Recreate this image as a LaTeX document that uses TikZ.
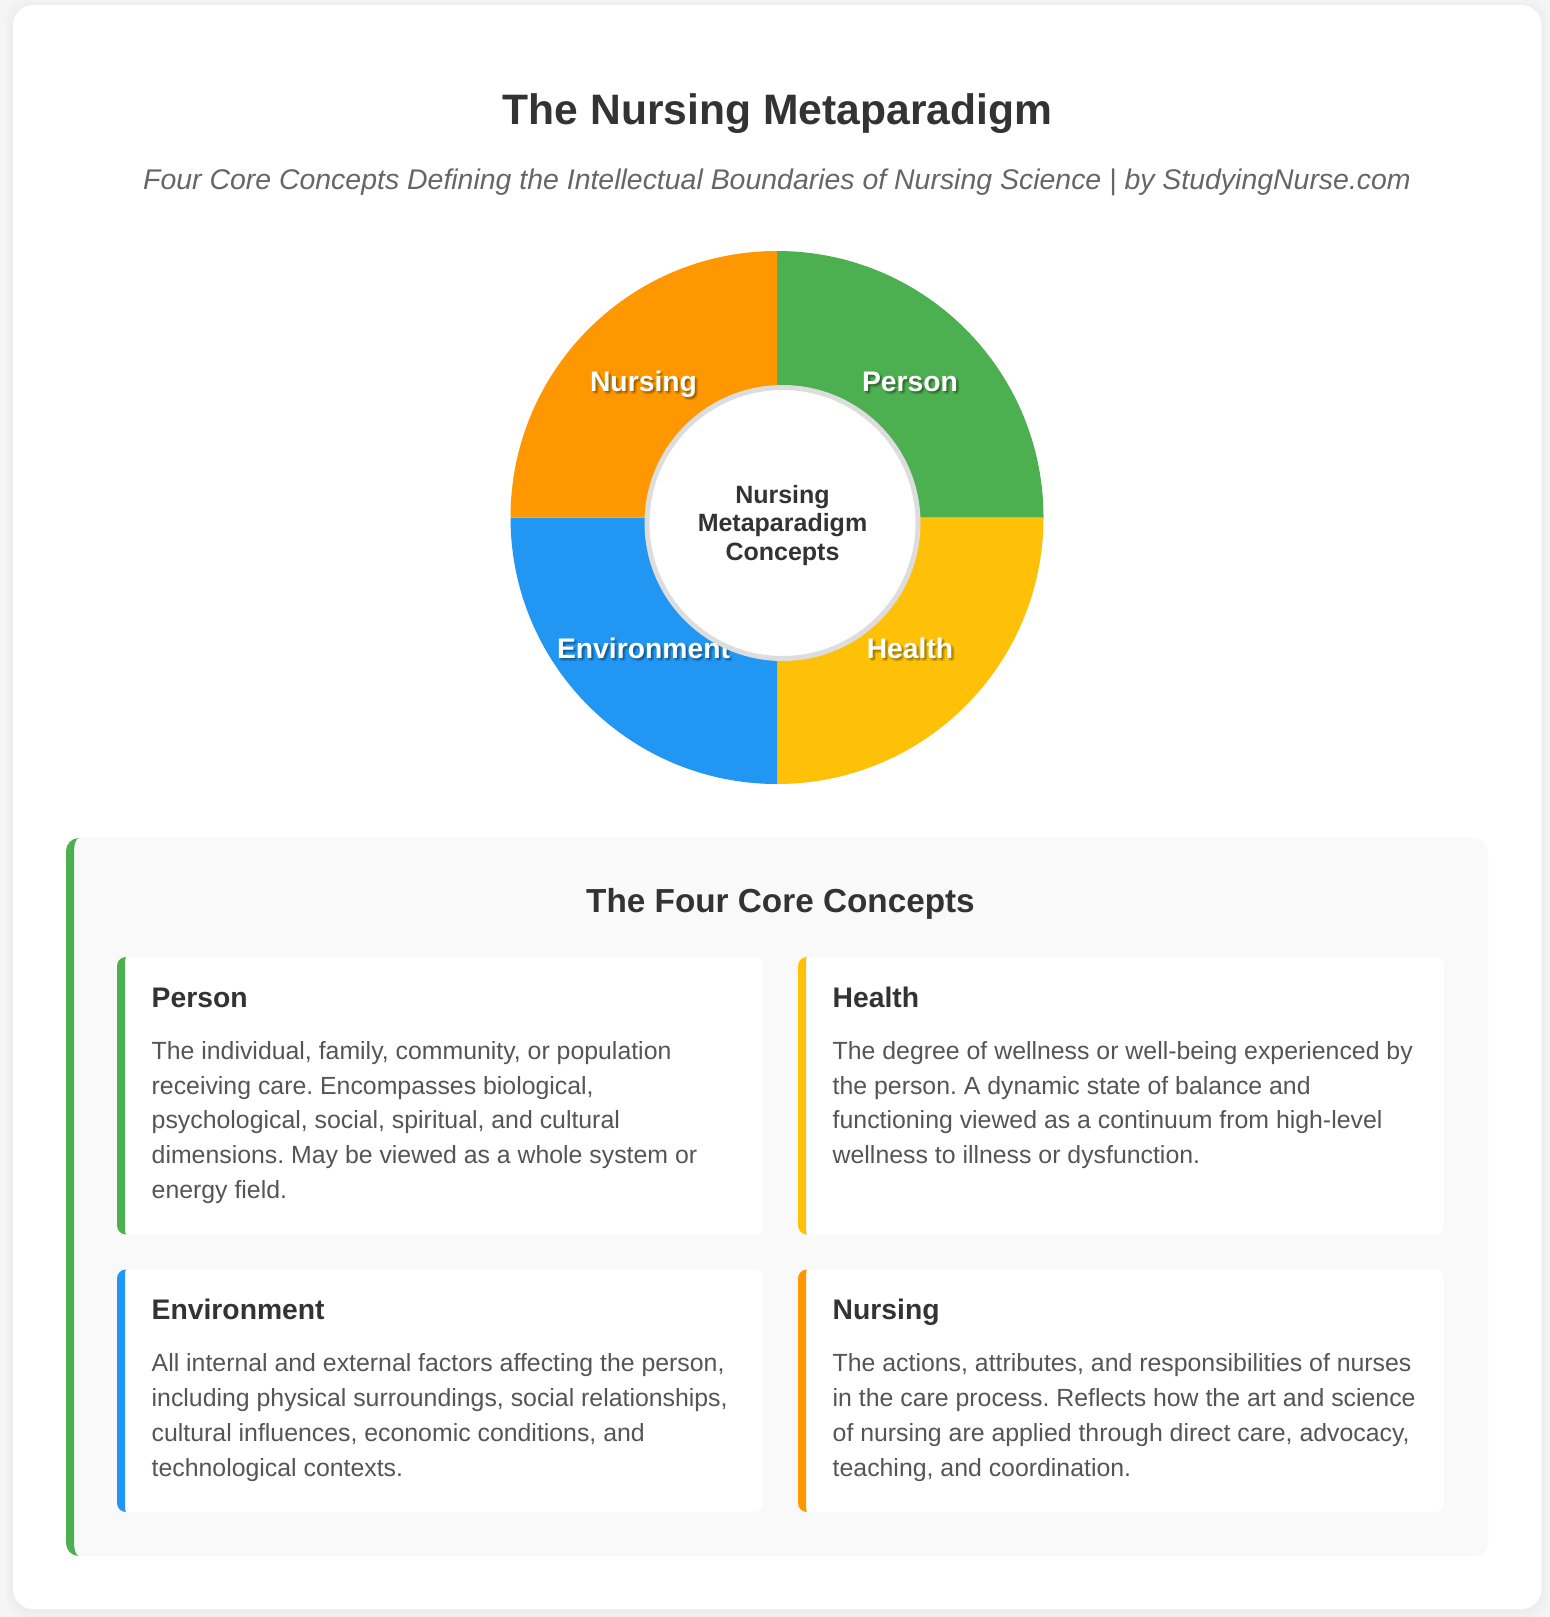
\documentclass[tikz,border=0pt]{standalone}
\usepackage{fontspec}
\setmainfont{Liberation Sans}
\frenchspacing
\definecolor{page}{HTML}{F5F5F5}
\definecolor{panel}{HTML}{F9F9F9}
\definecolor{ink}{HTML}{333333}
\definecolor{subink}{HTML}{666666}
\definecolor{bodyink}{HTML}{555555}
\definecolor{ringline}{HTML}{DDDDDD}
\definecolor{personcol}{HTML}{4CAF50}
\definecolor{healthcol}{HTML}{FFC107}
\definecolor{envcol}{HTML}{2196F3}
\definecolor{nursingcol}{HTML}{FF9800}
\newcommand{\accentbar}[6]{% colour, left, top, bottom, radius, width
  \fill [#1] (#2+#5,#3) arc [radius=#5, start angle=270, end angle=180]
    -- (#2,#4-#5) arc [radius=#5, start angle=180, end angle=90]
    arc [x radius=#5-#6, y radius=#5, start angle=90, end angle=180]
    -- (#2+#6,#3+#5) arc [x radius=#5-#6, y radius=#5, start angle=180, end angle=270]
    -- cycle;
}
\tikzset{%
  main title/.style={
    font=\fontsize{42.6}{48}\selectfont\bfseries,
    text=ink
  },
  sub title/.style={
    font=\fontsize{28.45}{34}\selectfont\itshape,
    text=subink
  },
  panel title/.style={
    font=\fontsize{33.3}{38}\selectfont\bfseries,
    text=ink
  },
  wedge label/.style={
    font=\fontsize{28.3}{32}\selectfont\bfseries,
    text=white,
    anchor=base
  },
  wedge shadow/.style={
    font=\fontsize{28.3}{32}\selectfont\bfseries,
    text=black,
    text opacity=0.09,
    anchor=base
  },
  ring centre/.style={
    circle,
    draw=ringline,
    line width=5pt,
    fill=white,
    minimum size=271pt,
    inner sep=0pt
  },
  centre label/.style={
    font=\fontsize{25}{28.4}\selectfont\bfseries,
    text=ink,
    align=center
  },
  card title/.style={
    font=\fontsize{28.3}{32}\selectfont\bfseries,
    text=ink,
    anchor=base west,
    inner sep=0pt
  },
  card text/.style={
    font=\fontsize{24.85}{34.8}\selectfont,
    text=bodyink,
    align=left,
    anchor=north west,
    inner sep=0pt
  },
}
\begin{document}
\begin{tikzpicture}[x=1pt,y=-1pt]
\useasboundingbox (0,0) rectangle (1550,1617);
\fill [page] (0,0) rectangle (1550,1617);

% sheet
\foreach \s in {8,6,4,2}
  \fill [black, opacity=0.008, rounded corners=22pt]
    (13-\s,5-\s+2) rectangle (1541.5+\s,1609+\s+2);
\fill [white, rounded corners=20pt] (13,5) rectangle (1541.5,1609);

\node [main title] (title) at (777.5,114) {The Nursing Metaparadigm};
\node [sub title] (subtitle) at (777,182.5) {Four Core Concepts Defining the Intellectual Boundaries of Nursing Science | by StudyingNurse.com};

% wheel
\foreach \c/\a in {personcol/270, healthcol/0, envcol/90, nursingcol/180}
  \fill [\c] (777,517.5) -- ++(\a:266.5) arc [radius=266.5, start angle=\a, end angle=\a+90] -- cycle;

\foreach \l/\x/\y in {Person/910/391, Nursing/643.5/391, Environment/643.5/658, Health/910/658}
{
  \foreach \d/\e in {1/3, 3/1, 1/1, 3/3, 2/2}
    \node [wedge shadow] at (\x+\d,\y+\e) {\l};
  \node [wedge label] (label-\l) at (\x,\y) {\l};
}

\node [ring centre] (ring) at (782.5,523) {};
\node [centre label] (ring-label) at (782.5,525.5) {Nursing\\Metaparadigm\\Concepts};

% concepts
\fill [panel, rounded corners=13pt] (66,838) rectangle (1488,1556);
\accentbar{personcol}{66}{838}{1556}{13}{8}
\node [panel title] (concepts) at (780.5,904) {The Four Core Concepts};

\foreach \n/\c/\x/\t/\b/\body in {
  Person/personcol/117/957/1234.5/{The individual, family, community, or population\\receiving care. Encompasses biological,\\psychological, social, spiritual, and cultural\\dimensions. May be viewed as a whole system or\\energy field.},
  Health/healthcol/798/957/1234.5/{The degree of wellness or well-being experienced by\\the person. A dynamic state of balance and\\functioning viewed as a continuum from high-level\\wellness to illness or dysfunction.},
  Environment/envcol/117/1269.5/1512/{All internal and external factors affecting the person,\\including physical surroundings, social relationships,\\cultural influences, economic conditions, and\\technological contexts.},
  Nursing/nursingcol/798/1269.5/1512/{The actions, attributes, and responsibilities of nurses\\in the care process. Reflects how the art and science\\of nursing are applied through direct care, advocacy,\\teaching, and coordination.}}
{
  \fill [white, rounded corners=9pt] (\x,\t) rectangle (\x+646,\b);
  \accentbar{\c}{\x}{\t}{\b}{9}{8}
  \node [card title] (name-\n) at (\x+34.5,\t+50) {\n};
  \node [card text] (text-\n) at (\x+34.5,\t+84) {\body};
}
\end{tikzpicture}
\end{document}
